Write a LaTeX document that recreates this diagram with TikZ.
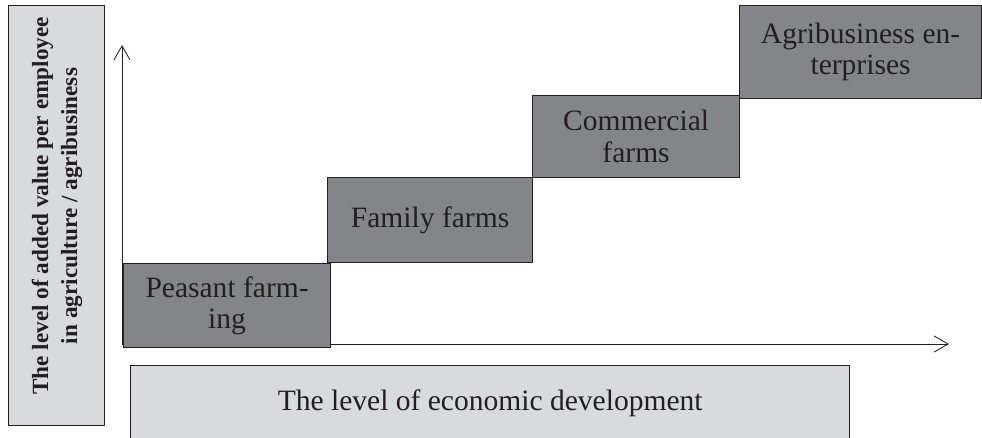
\documentclass[tikz,border=0pt]{standalone}
\usepackage{fontspec}
\setmainfont{Liberation Serif}
\usetikzlibrary{arrows.meta}

\definecolor{stepgray}{HTML}{848588}
\definecolor{panelgray}{HTML}{D9DADC}
\definecolor{ink}{HTML}{231F20}

\tikzset{
  stepbox/.style={draw=ink, fill=stepgray, line width=0.8pt, text=ink, align=center,
    inner sep=0pt, anchor=north west, font=\fontsize{21}{22.4}\selectfont},
  panel/.style={draw=ink, fill=panelgray, line width=0.8pt, text=ink, align=center,
    inner sep=0pt, anchor=north west},
}

\begin{document}
\begin{tikzpicture}[x=0.025cm, y=-0.025cm, >={Straight Barb[length=3.5mm,width=4mm]}]
    \useasboundingbox (0,0) rectangle (982,437);

    % axes
    \coordinate (origin) at (122,344);
    \coordinate (ytip) at (122,45);
    \coordinate (xtip) at (949,344);
    \draw[line width=0.6pt, ->, ink] (origin) -- (ytip);
    \draw[line width=0.6pt, ->, ink] (origin) -- (xtip);

    % the four steps
    \node[stepbox, minimum width=5.175cm, minimum height=2.1cm] (peasant) at (123,263) {Peasant farm-\\ing};
    \node[stepbox, minimum width=5.125cm, minimum height=2.125cm] (family) at (327,177) {Family farms};
    \node[stepbox, minimum width=5.175cm, minimum height=2.05cm] (commercial) at (532,95) {Commercial\\farms};
    \node[stepbox, minimum width=6.05cm, minimum height=2.325cm] (agribusiness) at (739,5) {Agribusiness en-\\terprises};

    % axis captions
    \node[panel, minimum width=2.4cm, minimum height=10.5cm] (valuebox) at (8,5) {};
    \node[rotate=90, align=center, text=ink, font=\bfseries\fontsize{16.5}{20.6}\selectfont] (valuetext) at (57,206)
        {The level of added value per employee\\in agriculture / agribusiness};
    \node[panel, minimum width=17.975cm, minimum height=1.9cm, font=\fontsize{21}{22.4}\selectfont] (econbox) at (130,365)
        {The level of economic development};
\end{tikzpicture}
\end{document}
